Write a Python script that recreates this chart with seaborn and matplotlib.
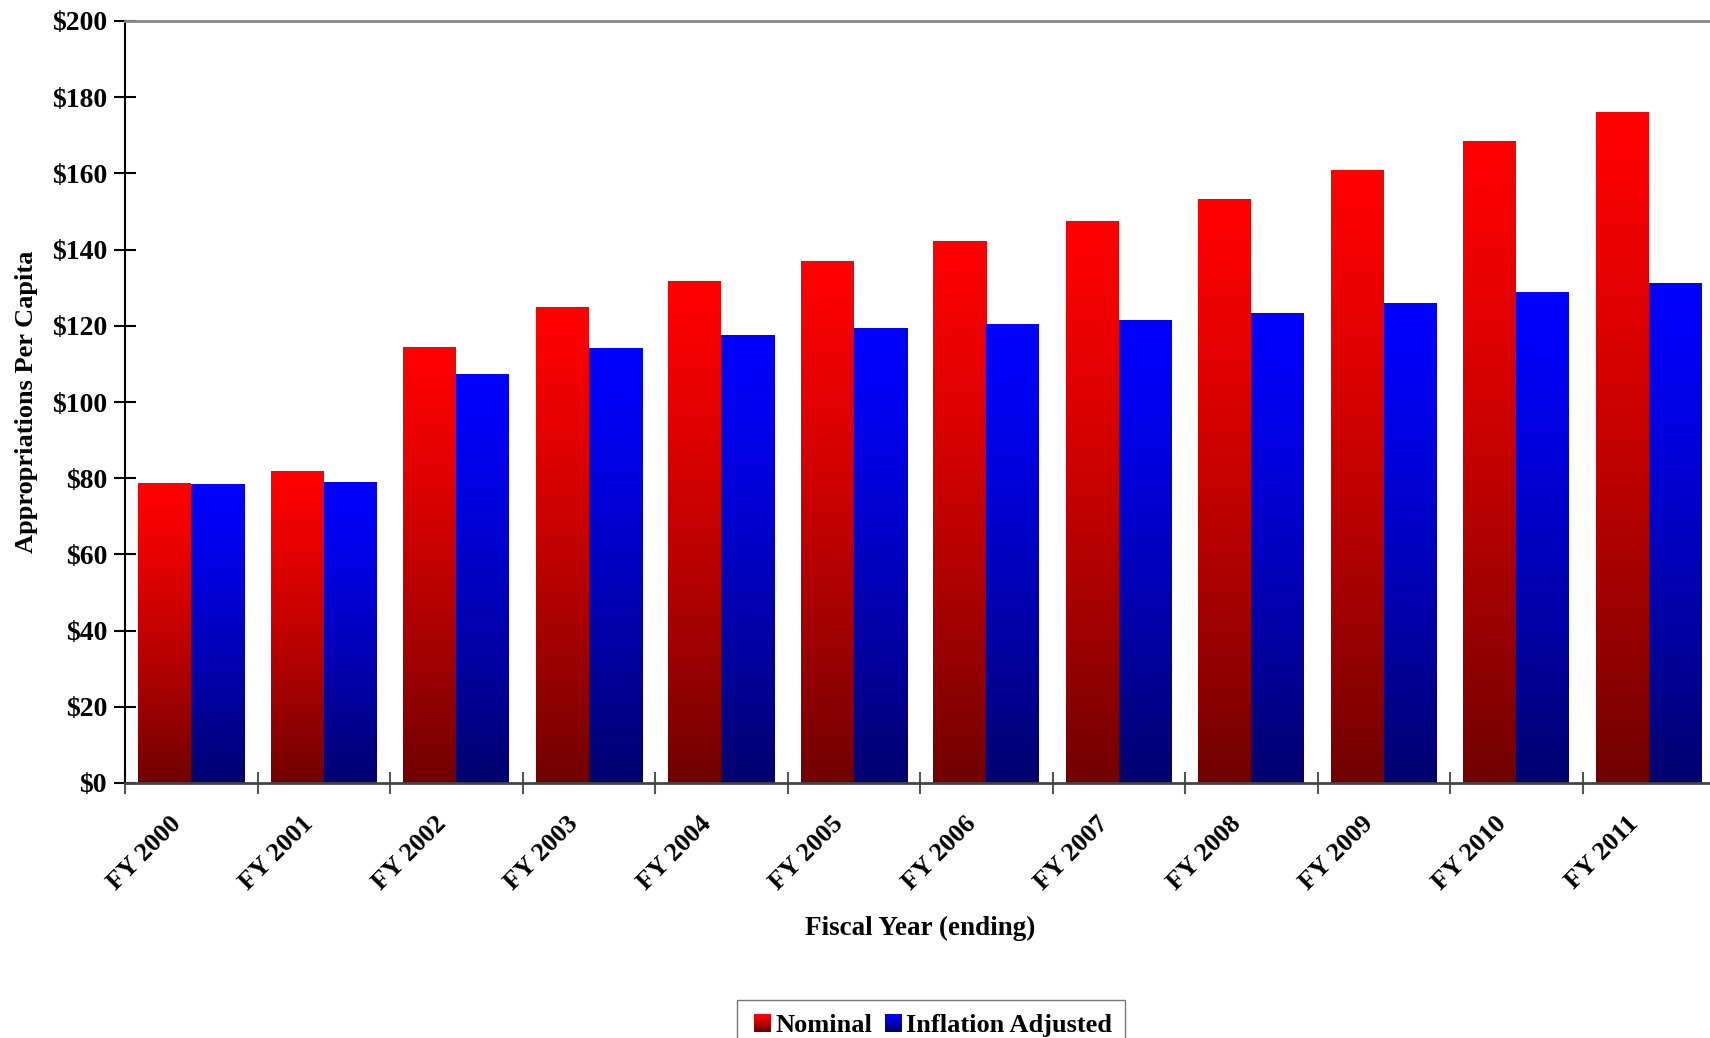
import numpy as np
import pandas as pd
import seaborn as sns
import matplotlib.pyplot as plt
import matplotlib.transforms as mtransforms
from matplotlib.patches import Rectangle
from matplotlib.legend_handler import HandlerBase
from matplotlib.ticker import FixedLocator

years = ["FY 2000", "FY 2001", "FY 2002", "FY 2003", "FY 2004", "FY 2005",
         "FY 2006", "FY 2007", "FY 2008", "FY 2009", "FY 2010", "FY 2011"]
nominal = [78.7, 81.9, 114.5, 124.9, 131.8, 137.1, 142.3, 147.5, 153.2, 160.9, 168.5, 176.1]
inflation_adj = [78.5, 79.1, 107.4, 114.3, 117.7, 119.3, 120.6, 121.6, 123.4, 126.1, 128.9, 131.3]
series_names = ["Nominal", "Inflation Adjusted"]

df = pd.DataFrame({
    "year": years * 2,
    "series": [series_names[0]] * len(years) + [series_names[1]] * len(years),
    "value": nominal + inflation_adj,
})

sns.set_theme(style="white", rc={"text.color": "black", "axes.labelcolor": "black",
                                 "xtick.color": "black", "ytick.color": "black"})
plt.rcParams['font.family'] = ['Liberation Serif', 'DejaVu Serif']
plt.rcParams['font.weight'] = 'bold'

# top colour -> bottom colour for each series
grad = {
    series_names[0]: ((1.0, 0.0, 0.0), (0.44, 0.0, 0.0)),
    series_names[1]: ((0.0, 0.0, 1.0), (0.0, 0.0, 0.43)),
}


def gradient_array(top, bottom, n=256):
    t = np.linspace(0, 1, n) ** 1.25
    top = np.array(top)
    bottom = np.array(bottom)
    cols = top[None, :] + (bottom - top)[None, :] * t[:, None]
    return cols[:, None, :]


fig = plt.figure(figsize=(17.10, 10.38), dpi=100)
ax = fig.add_axes([125 / 1710, 1 - 783 / 1038, 1590 / 1710, 762 / 1038])

sns.barplot(data=df, x="year", y="value", hue="series", hue_order=series_names,
            palette=["red", "blue"], saturation=1, ax=ax, legend=False,
            width=0.8, linewidth=0, errorbar=None)

# paint vertical gradients inside each bar
n_years = len(years)
for i, patch in enumerate(ax.patches[:2 * n_years]):
    name = series_names[i // n_years]
    x0, w, h = patch.get_x(), patch.get_width(), patch.get_height()
    img = ax.imshow(gradient_array(*grad[name]), extent=[x0, x0 + w, 0, h],
                    aspect='auto', origin='upper', zorder=2)
    img.set_clip_path(patch)
    patch.set_facecolor('none')

ax.set_xlim(-0.5, n_years - 0.5)
ax.set_ylim(0, 200)
ax.set_yticks(range(0, 201, 20))
ax.set_yticklabels([f"${v}" for v in range(0, 201, 20)], fontsize=20, fontweight='bold')
ax.set_xticks(range(n_years))
ax.set_xticklabels(years, rotation=45, ha='right', rotation_mode='anchor',
                   fontsize=19, fontweight='bold')
ax.xaxis.set_minor_locator(FixedLocator(np.arange(-0.5, n_years, 1.0)))
ax.tick_params(axis='x', which='major', length=0, pad=21)
ax.tick_params(axis='x', which='minor', length=16, direction='inout', color='#555555', width=1.5, bottom=True)
ax.tick_params(axis='y', which='major', length=16, direction='inout', color='black', width=1.5, pad=5, left=True)

# nudge rotated year labels left (after tick_params, which resets transforms)
shift = mtransforms.ScaledTranslation(-22 / 100, 0, fig.dpi_scale_trans)
for lbl in ax.get_xticklabels():
    lbl.set_transform(lbl.get_transform() + shift)

ax.set_xlabel("Fiscal Year (ending)", fontsize=19.5, fontweight='bold', labelpad=15.5)
ax.set_ylabel("Appropriations Per Capita", fontsize=19, fontweight='bold', labelpad=10)

for s in ['left', 'bottom', 'top', 'right']:
    ax.spines[s].set_visible(True)
ax.spines['left'].set_color('black')
ax.spines['left'].set_linewidth(1.5)
ax.spines['bottom'].set_color('#444444')
ax.spines['bottom'].set_linewidth(2)
ax.spines['top'].set_color('#888888')
ax.spines['top'].set_linewidth(2)
ax.spines['right'].set_visible(False)
ax.grid(False)


class GradientHandler(HandlerBase):
    def create_artists(self, legend, orig_handle, xdescent, ydescent, width, height, fontsize, trans):
        top, bottom = grad[orig_handle]
        size = height * 0.95
        x = xdescent + width - size
        y = -ydescent
        n = 12
        arts = []
        for k in range(n):
            t = (k / (n - 1)) ** 1.25
            c = tuple(np.array(top) + (np.array(bottom) - np.array(top)) * t)
            r = Rectangle((x, y + size * (n - 1 - k) / n), size, size / n + 0.3,
                          facecolor=c, edgecolor='none', transform=trans)
            arts.append(r)
        return arts


handles = [h for h in series_names]
fig.legend(handles, series_names, handler_map={str: GradientHandler()},
           loc='upper center', bbox_to_anchor=(0.5445, 1 - 1000 / 1038),
           ncol=2, frameon=True, fancybox=False, edgecolor='#555555',
           prop={'size': 19, 'weight': 'bold'}, handlelength=0.8, handletextpad=0.15,
           columnspacing=0.35, borderpad=0.5, borderaxespad=0)

fig.savefig("out.png", dpi=100)
